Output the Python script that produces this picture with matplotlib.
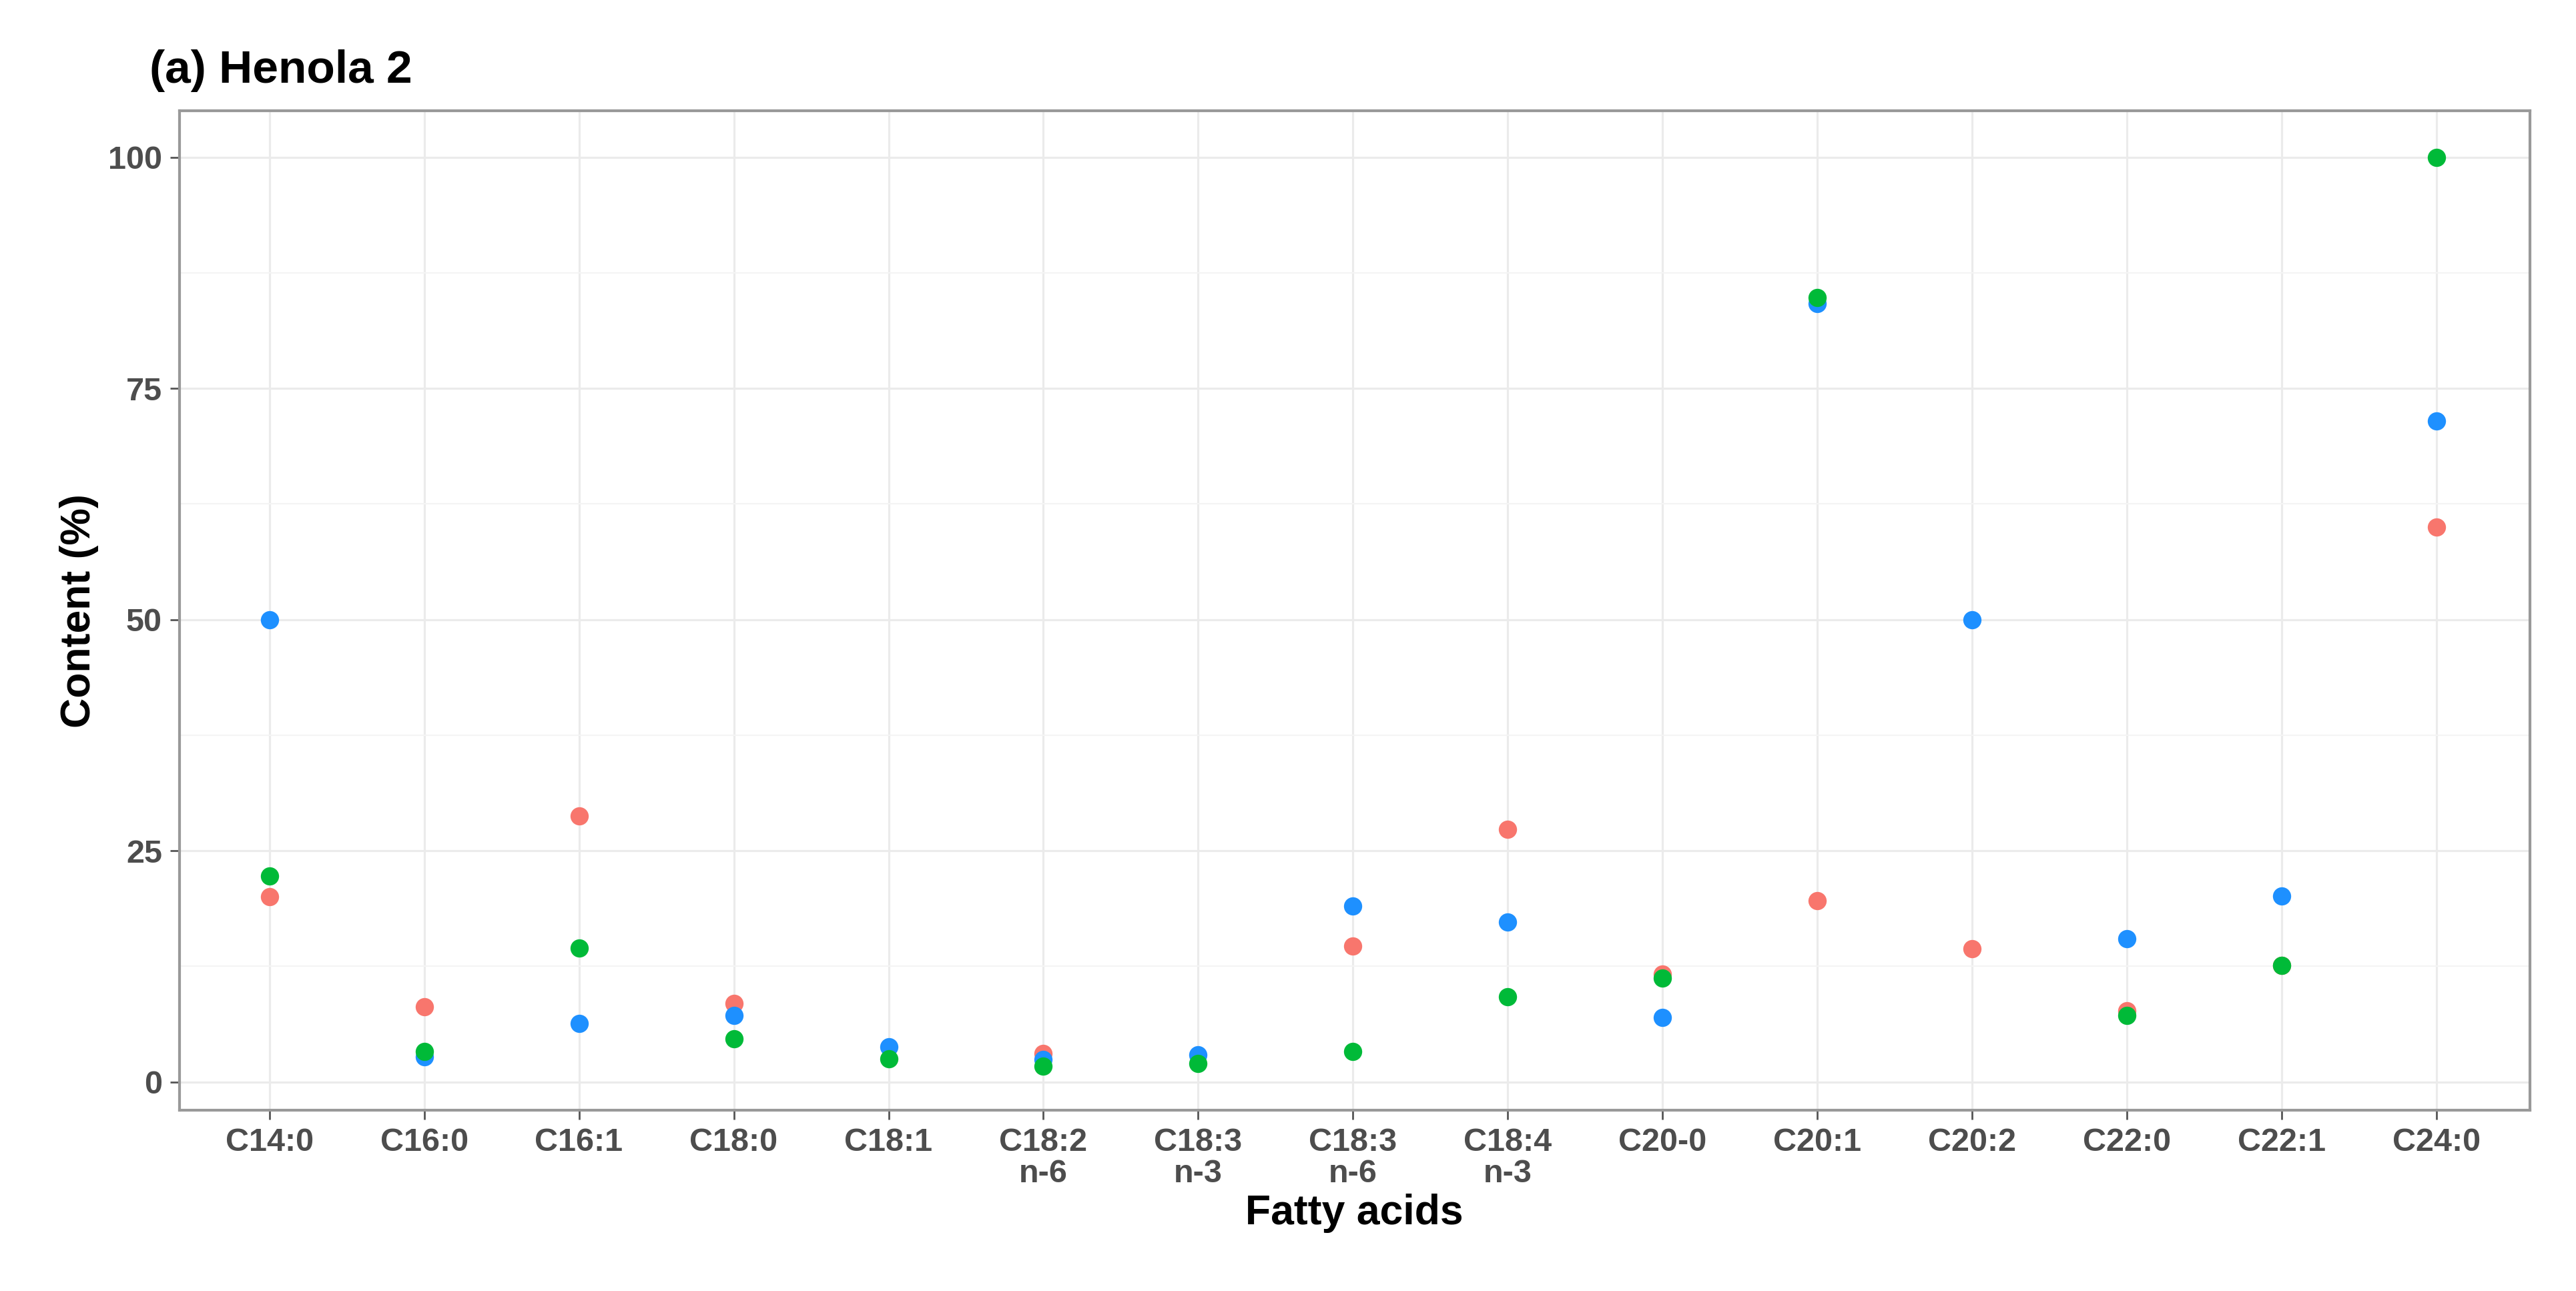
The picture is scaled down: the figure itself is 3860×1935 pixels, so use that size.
import numpy as np
from matplotlib import pyplot as plt

plt.rcParams['font.family'] = ['Liberation Sans', 'DejaVu Sans']

acids = ["C14:0", "C16:0", "C16:1", "C18:0", "C18:1", "C18:2\nn-6", "C18:3\nn-3",
         "C18:3\nn-6", "C18:4\nn-3", "C20-0", "C20:1", "C20:2", "C22:0", "C22:1", "C24:0"]

# values (nan = point not visible)
red = [20.0, 8.1, 28.8, 8.5, np.nan, 3.1, np.nan, 14.7, 27.3, 11.7, 19.6, 14.4, 7.7, 12.6, 60.0]
blue = [50.0, 2.7, 6.3, 7.2, 3.8, 2.4, 2.9, 19.0, 17.3, 7.0, 84.2, 50.0, 15.5, 20.1, 71.5]
green = [22.3, 3.3, 14.5, 4.7, 2.5, 1.7, 2.0, 3.3, 9.2, 11.2, 84.8, np.nan, 7.2, 12.6, 100.0]

fig = plt.figure(figsize=(15.44, 7.74), dpi=250)
ax = fig.add_axes([0.0697, 0.140, 0.9123, 0.774])

x = np.arange(1, len(acids) + 1)
for vals, col in [(red, "#F8766D"), (blue, "#1E90FF"), (green, "#00BA38")]:
    ax.scatter(x, vals, s=62, color=col, zorder=3, linewidths=0)

ax.set_xlim(0.42, 15.6)
ax.set_ylim(-3.06, 105)
ax.set_xticks(x)
ax.set_xticklabels(acids, fontsize=14, fontweight="bold", color="#4d4d4d", linespacing=1.05)
ax.set_yticks([0, 25, 50, 75, 100])
ax.set_yticks([12.5, 37.5, 62.5, 87.5], minor=True)
ax.tick_params(axis="y", labelsize=14, labelcolor="#4d4d4d")
for lab in ax.get_yticklabels():
    lab.set_fontweight("bold")
ax.tick_params(which="both", color="#555555", length=4)
ax.tick_params(which="minor", length=0)
ax.grid(True, which="major", color="#ebebeb", lw=0.9)
ax.grid(True, which="minor", color="#f4f4f4", lw=0.6)
ax.set_axisbelow(True)
for sp in ax.spines.values():
    sp.set_color("#999999")
    sp.set_linewidth(1.2)

ax.set_xlabel("Fatty acids", fontsize=18, fontweight="bold", labelpad=2)
ax.set_ylabel("Content (%)", fontsize=18, fontweight="bold")
fig.text(0.058, 0.945, "(a) Henola 2", fontsize=20, fontweight="bold", va="center")

fig.savefig("out.png", dpi=250)
